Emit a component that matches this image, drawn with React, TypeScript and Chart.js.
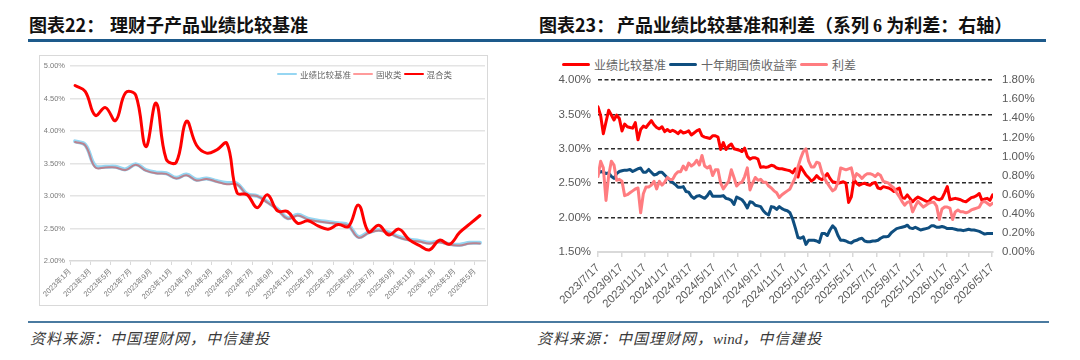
import React, { useEffect, useRef } from 'react';
import { Chart, registerables } from 'chart.js';

Chart.register(...registerables);
Chart.defaults.font.family = '"Liberation Sans", "Noto Sans CJK SC", sans-serif';

// ---- 图表22：理财子产品业绩比较基准 (monthly, 2023年1月 – 2026年5月) ----
const LEFT_MONTH_LABELS = [
  '2023年1月', '2023年3月', '2023年5月', '2023年7月', '2023年9月', '2023年11月',
  '2024年1月', '2024年3月', '2024年5月', '2024年7月', '2024年9月', '2024年11月',
  '2025年1月', '2025年3月', '2025年5月', '2025年7月', '2025年9月', '2025年11月',
  '2026年1月', '2026年3月', '2026年5月',
];

const BENCHMARK_ALL = [
  3.84, 3.79, 3.46, 3.45, 3.45, 3.41, 3.49, 3.40, 3.36, 3.35,
  3.28, 3.33, 3.25, 3.27, 3.23, 3.20, 3.19, 3.03, 3.00, 2.91,
  2.80, 2.66, 2.71, 2.65, 2.62, 2.60, 2.58, 2.55, 2.37, 2.44,
  2.48, 2.44, 2.37, 2.33, 2.31, 2.28, 2.30, 2.26, 2.25, 2.28,
  2.28,
];

const FIXED_INCOME = [
  3.83, 3.78, 3.44, 3.44, 3.44, 3.40, 3.48, 3.39, 3.35, 3.34,
  3.27, 3.32, 3.24, 3.26, 3.22, 3.18, 3.18, 3.02, 3.00, 2.90,
  2.79, 2.65, 2.70, 2.64, 2.61, 2.59, 2.57, 2.54, 2.36, 2.43,
  2.47, 2.43, 2.36, 2.32, 2.30, 2.27, 2.29, 2.25, 2.24, 2.27,
  2.27,
];

const MIXED = [
  4.70, 4.61, 4.24, 4.36, 4.16, 4.59, 4.55, 3.76, 4.43, 3.57,
  3.52, 4.15, 3.78, 3.66, 3.71, 3.81, 3.05, 3.02, 2.82, 3.02,
  2.77, 2.76, 2.58, 2.62, 2.54, 2.49, 2.56, 2.53, 2.86, 2.45,
  2.55, 2.40, 2.49, 2.33, 2.24, 2.17, 2.32, 2.26, 2.44, 2.57,
  2.70,
];

// ---- 图表23：产品业绩比较基准和利差 (weekly from 2023/7/17) ----
const WEEK_START = '2023/7/17';
const RIGHT_TICK_LABELS = [
  '2023/7/17', '2023/9/17', '2023/11/17', '2024/1/17', '2024/3/17', '2024/5/17',
  '2024/7/17', '2024/9/17', '2024/11/17', '2025/1/17', '2025/3/17', '2025/5/17',
  '2025/7/17', '2025/9/17', '2025/11/17', '2026/1/17', '2026/3/17', '2026/5/17',
];

const BENCHMARK_RATE = [
  3.61, 3.48, 3.22, 3.39, 3.56, 3.49, 3.42, 3.49, 3.44, 3.26,
  3.36, 3.32, 3.31, 3.30, 3.38, 3.13, 3.28, 3.33, 3.31, 3.36,
  3.41, 3.35, 3.31, 3.29, 3.32, 3.25, 3.28, 3.25, 3.27, 3.25,
  3.22, 3.26, 3.23, 3.24, 3.26, 3.20, 3.23, 3.26, 3.28, 3.19,
  3.17, 3.16, 3.15, 3.19, 3.19, 3.17, 2.99, 3.09, 2.99, 3.04,
  3.07, 3.00, 2.99, 2.98, 2.96, 3.01, 2.89, 2.85, 2.87, 2.87,
  2.85, 2.73, 2.74, 2.73, 2.74, 2.76, 2.75, 2.72, 2.71, 2.71,
  2.70, 2.69, 2.68, 2.65, 2.71, 2.59, 2.74, 2.68, 2.62, 2.58,
  2.53, 2.56, 2.61, 2.57, 2.55, 2.59, 2.64, 2.57, 2.52, 2.51,
  2.50, 2.51, 2.52, 2.50, 2.22, 2.30, 2.55, 2.50, 2.47, 2.49,
  2.50, 2.48, 2.47, 2.50, 2.51, 2.43, 2.42, 2.45, 2.44, 2.43,
  2.41, 2.38, 2.41, 2.43, 2.29, 2.28, 2.33, 2.28, 2.23, 2.27,
  2.30, 2.28, 2.26, 2.24, 2.23, 2.28, 2.30, 2.27, 2.26, 2.28,
  2.36, 2.45, 2.26, 2.27, 2.28, 2.27, 2.26, 2.24, 2.23, 2.26,
  2.29, 2.30, 2.32, 2.35, 2.25, 2.27, 2.28, 2.25, 2.33,
];

const TEN_YEAR_YIELD = [
  2.64, 2.67, 2.66, 2.64, 2.65, 2.60, 2.57, 2.64, 2.67, 2.68,
  2.69, 2.69, 2.70, 2.67, 2.69, 2.71, 2.72, 2.66, 2.66, 2.70,
  2.66, 2.62, 2.63, 2.66, 2.66, 2.62, 2.58, 2.54, 2.51, 2.48,
  2.44, 2.44, 2.45, 2.38, 2.37, 2.31, 2.28, 2.31, 2.32, 2.30,
  2.28, 2.32, 2.38, 2.31, 2.31, 2.31, 2.31, 2.32, 2.28, 2.27,
  2.25, 2.19, 2.30, 2.28, 2.26, 2.21, 2.14, 2.23, 2.22, 2.18,
  2.17, 2.16, 2.10, 2.06, 2.04, 2.16, 2.15, 2.12, 2.16, 2.13,
  2.11, 2.10, 2.07, 1.98, 1.85, 1.71, 1.70, 1.72, 1.61, 1.67,
  1.67, 1.67, 1.66, 1.64, 1.77, 1.77, 1.74, 1.82, 1.88, 1.84,
  1.74, 1.67, 1.67, 1.66, 1.64, 1.63, 1.66, 1.67, 1.69, 1.70,
  1.66, 1.65, 1.65, 1.66, 1.66, 1.67, 1.70, 1.72, 1.72, 1.73,
  1.78, 1.81, 1.84, 1.85, 1.86, 1.87, 1.89, 1.85, 1.84, 1.86,
  1.84, 1.82, 1.83, 1.84, 1.85, 1.88, 1.88, 1.86, 1.86, 1.87,
  1.86, 1.84, 1.84, 1.84, 1.83, 1.82, 1.82, 1.81, 1.82, 1.83,
  1.82, 1.82, 1.81, 1.80, 1.78, 1.76, 1.77, 1.77, 1.77,
];

const SPREAD = [
  0.79, 0.95, 0.88, 0.54, 0.80, 0.95, 0.91, 0.75, 0.76, 0.74,
  0.59, 0.60, 0.62, 0.64, 0.66, 0.67, 0.41, 0.61, 0.68, 0.68,
  0.70, 0.74, 0.66, 0.74, 0.70, 0.73, 0.78, 0.76, 0.76, 0.81,
  0.84, 0.84, 0.90, 0.86, 0.93, 0.90, 0.92, 0.96, 0.91, 1.01,
  0.90, 0.88, 0.90, 0.80, 0.86, 0.86, 0.72, 0.66, 0.70, 0.74,
  0.86, 0.78, 0.69, 0.72, 0.73, 0.79, 0.88, 0.65, 0.72, 0.78,
  0.75, 0.76, 0.73, 0.73, 0.69, 0.67, 0.64, 0.62, 0.57, 0.60,
  0.62, 0.64, 0.66, 0.72, 0.78, 0.89, 0.98, 1.05, 1.08, 0.95,
  0.89, 0.89, 0.94, 0.93, 0.83, 0.77, 0.72, 0.68, 0.64, 0.66,
  0.73, 0.88, 0.87, 0.86, 0.87, 0.88, 0.76, 0.82, 0.80, 0.77,
  0.80, 0.82, 0.82, 0.81, 0.79, 0.82, 0.80, 0.74, 0.73, 0.72,
  0.69, 0.67, 0.62, 0.58, 0.53, 0.49, 0.52, 0.53, 0.42, 0.48,
  0.53, 0.50, 0.47, 0.49, 0.51, 0.52, 0.52, 0.48, 0.34, 0.45,
  0.47, 0.47, 0.46, 0.34, 0.42, 0.44, 0.42, 0.42, 0.41, 0.42,
  0.44, 0.45, 0.46, 0.47, 0.52, 0.53, 0.51, 0.49, 0.51,
];

// days elapsed since the first weekly observation
const toUTC = (s: string) => {
  const [y, m, d] = s.split('/').map(Number);
  return Date.UTC(y, m - 1, d);
};
const dayOffset = (s: string) => (toUTC(s) - toUTC(WEEK_START)) / 86400000;

const pct = (v: number) => Number(v).toFixed(2) + '%';
const CJK = '"Noto Sans CJK SC", sans-serif';

export default function App() {
  const leftRef = useRef<HTMLCanvasElement>(null);
  const rightRef = useRef<HTMLCanvasElement>(null);

  useEffect(() => {
    const monthly = (arr: number[]) => arr.map((v, i) => ({ x: i + 0.5, y: v }));
    const weekly = (arr: number[]) => arr.map((v, i) => ({ x: i * 7, y: v }));

    const left = new Chart(leftRef.current!, {
      type: 'line',
      data: {
        datasets: [
          { label: '混合类', data: monthly(MIXED), borderColor: '#ff0000', borderWidth: 3, order: 0 },
          { label: '固收类', data: monthly(FIXED_INCOME), borderColor: '#b9828f', borderWidth: 2, order: 1 },
          { label: '业绩比较基准', data: monthly(BENCHMARK_ALL), borderColor: '#96d6f2', borderWidth: 4, order: 2 },
        ],
      },
      options: {
        responsive: false,
        animation: false,
        layout: { padding: { top: 10, right: 2, left: 0, bottom: 0 } },
        elements: {
          point: { radius: 0 },
          line: { tension: 0.4, borderCapStyle: 'round', borderJoinStyle: 'round' },
        },
        plugins: { legend: { display: false }, tooltip: { enabled: false } },
        scales: {
          x: {
            type: 'linear',
            bounds: 'data',
            min: 0,
            max: 41,
            afterBuildTicks: (s: any) => {
              s.ticks = LEFT_MONTH_LABELS.map((_, k) => ({ value: k * 2 }));
            },
            afterFit: (s: any) => {
              s.height = 44;
              s.paddingLeft = 0;
              s.paddingRight = 0;
            },
            ticks: {
              autoSkip: false,
              maxRotation: 45,
              minRotation: 45,
              padding: 2,
              color: '#7a7a7a',
              font: { size: 7.5 },
              callback: (_v: any, i: number) => LEFT_MONTH_LABELS[i],
            },
            grid: { drawOnChartArea: false, tickLength: 4, color: '#d9d9d9', lineWidth: 1 },
            border: { display: true, color: '#d9d9d9', width: 1.5 },
          },
          y: {
            min: 2,
            max: 5,
            afterFit: (s: any) => {
              s.width = 30;
              s.paddingTop = 0;
              s.paddingBottom = 0;
            },
            ticks: { stepSize: 0.5, padding: 5, color: '#7a7a7a', font: { size: 7.5 }, callback: (v: any) => pct(v) },
            grid: {
              drawTicks: false,
              lineWidth: 1.5,
              color: (c: any) => (c.tick && Math.abs(c.tick.value - 2) < 1e-6 ? 'rgba(0,0,0,0)' : '#e4e4e4'),
            },
            border: { display: false },
          },
        },
      },
    } as any);

    const right = new Chart(rightRef.current!, {
      type: 'line',
      data: {
        datasets: [
          { label: '利差', yAxisID: 'y1', data: weekly(SPREAD), borderColor: '#ff7c80', borderWidth: 3, order: 0 },
          { label: '业绩比较基准', yAxisID: 'y', data: weekly(BENCHMARK_RATE), borderColor: '#ff0000', borderWidth: 3, order: 1 },
          { label: '十年期国债收益率', yAxisID: 'y', data: weekly(TEN_YEAR_YIELD), borderColor: '#0f4e7f', borderWidth: 3, order: 2 },
        ],
      },
      options: {
        responsive: false,
        animation: false,
        layout: { padding: { top: 10, right: 0, left: 0, bottom: 0 } },
        elements: {
          point: { radius: 0 },
          line: { tension: 0, borderJoinStyle: 'round', borderCapStyle: 'round' },
        },
        plugins: { legend: { display: false }, tooltip: { enabled: false } },
        scales: {
          x: {
            type: 'linear',
            bounds: 'data',
            min: 0,
            max: 1037,
            afterBuildTicks: (s: any) => {
              s.ticks = RIGHT_TICK_LABELS.map((l) => ({ value: dayOffset(l) }));
            },
            afterFit: (s: any) => {
              s.height = 68;
              s.paddingLeft = 0;
              s.paddingRight = 0;
            },
            ticks: {
              autoSkip: false,
              maxRotation: 45,
              minRotation: 45,
              padding: 4,
              color: '#595959',
              font: { size: 11.5 },
              callback: (_v: any, i: number) => RIGHT_TICK_LABELS[i],
            },
            grid: { drawOnChartArea: false, tickLength: 5, color: '#d9d9d9', lineWidth: 1.5 },
            border: { color: '#d9d9d9', width: 2 },
          },
          y: {
            position: 'left',
            min: 1.5,
            max: 4,
            afterFit: (s: any) => {
              s.width = 58;
              s.paddingTop = 0;
              s.paddingBottom = 0;
            },
            ticks: { stepSize: 0.5, padding: 7, color: '#595959', font: { size: 11.5 }, callback: (v: any) => pct(v) },
            grid: {
              drawTicks: false,
              lineWidth: 1.5,
              color: (c: any) => (c.tick && Math.abs(c.tick.value - 1.5) < 1e-6 ? 'rgba(0,0,0,0)' : '#2b2b2b'),
            },
            border: { display: false, dash: [4, 2.5] },
          },
          y1: {
            position: 'right',
            min: 0,
            max: 1.8,
            afterFit: (s: any) => {
              s.width = 62;
              s.paddingTop = 0;
              s.paddingBottom = 0;
            },
            ticks: { stepSize: 0.2, padding: 9, color: '#595959', font: { size: 11.5 }, callback: (v: any) => pct(v) },
            grid: { drawOnChartArea: false, drawTicks: false },
            border: { display: false },
          },
        },
      },
    } as any);

    return () => {
      left.destroy();
      right.destroy();
    };
  }, []);

  const titleStyle: React.CSSProperties = {
    position: 'absolute',
    top: 14,
    fontFamily: CJK,
    fontSize: 18,
    fontWeight: 700,
    lineHeight: '20px',
    color: '#111',
    whiteSpace: 'nowrap',
  };
  const footStyle: React.CSSProperties = {
    position: 'absolute',
    top: 329,
    fontFamily: CJK,
    fontSize: 15,
    fontStyle: 'italic',
    letterSpacing: 1,
    lineHeight: '18px',
    color: '#3a3a3a',
    whiteSpace: 'nowrap',
  };
  const legendText = (size: number): React.CSSProperties => ({
    fontFamily: CJK,
    fontSize: size,
    color: '#666',
    whiteSpace: 'nowrap',
  });
  const swatch = (w: number, h: number, color: string, ml: number, mr: number): React.CSSProperties => ({
    display: 'inline-block',
    width: w,
    height: h,
    background: color,
    marginLeft: ml,
    marginRight: mr,
    borderRadius: h / 2,
  });

  return (
    <div
      style={{
        position: 'absolute',
        left: 0,
        top: 0,
        width: 1080,
        height: 360,
        background: '#fff',
        overflow: 'hidden',
      }}
    >
      {/* titles */}
      <div style={{ ...titleStyle, left: 29 }}>图表22：</div>
      <div style={{ ...titleStyle, left: 110 }}>理财子产品业绩比较基准</div>
      <div style={{ ...titleStyle, left: 539 }}>图表23：</div>
      <div style={{ ...titleStyle, left: 617 }}>
        产品业绩比较基准和利差（系列{' '}
        <span style={{ fontFamily: '"Liberation Serif", serif' }}>6</span> 为利差：右轴）
      </div>
      <div style={{ position: 'absolute', left: 28, top: 39, width: 1018, height: 3, background: '#1d5a8b' }} />

      {/* left panel */}
      <div
        style={{
          position: 'absolute',
          left: 39,
          top: 55,
          width: 449,
          height: 251,
          border: '1px solid #d9d9d9',
          boxSizing: 'border-box',
        }}
      />
      <canvas ref={leftRef} width={447} height={249} style={{ position: 'absolute', left: 40, top: 56 }} />
      <div style={{ position: 'absolute', left: 277, top: 68, height: 12, display: 'flex', alignItems: 'center' }}>
        <span style={swatch(20, 2, '#96d6f2', 0, 3)} />
        <span style={legendText(8.5)}>业绩比较基准</span>
        <span style={swatch(20, 2, '#ff9b9b', 2, 3)} />
        <span style={legendText(8.5)}>固收类</span>
        <span style={swatch(20, 2.5, '#ff0000', 2, 3)} />
        <span style={legendText(8.5)}>混合类</span>
      </div>

      {/* right panel */}
      <div style={{ position: 'absolute', left: 562, top: 56, height: 16, display: 'flex', alignItems: 'center' }}>
        <span style={swatch(28, 3, '#ff0000', 0, 4)} />
        <span style={legendText(12)}>业绩比较基准</span>
        <span style={swatch(28, 3, '#0f4e7f', 3, 4)} />
        <span style={legendText(12)}>十年期国债收益率</span>
        <span style={swatch(28, 3, '#ff7c80', 3, 4)} />
        <span style={legendText(12)}>利差</span>
      </div>
      <canvas ref={rightRef} width={515} height={250} style={{ position: 'absolute', left: 540, top: 70 }} />

      {/* source notes */}
      <div style={{ position: 'absolute', left: 28, top: 321, width: 1021, height: 2, background: '#4a7aa0' }} />
      <div style={{ ...footStyle, left: 30 }}>资料来源：中国理财网，中信建投</div>
      <div style={{ ...footStyle, left: 537 }}>
        资料来源：中国理财网，
        <span style={{ fontFamily: '"Liberation Serif", serif', letterSpacing: 0 }}>wind</span>
        ，中信建投
      </div>
    </div>
  );
}
